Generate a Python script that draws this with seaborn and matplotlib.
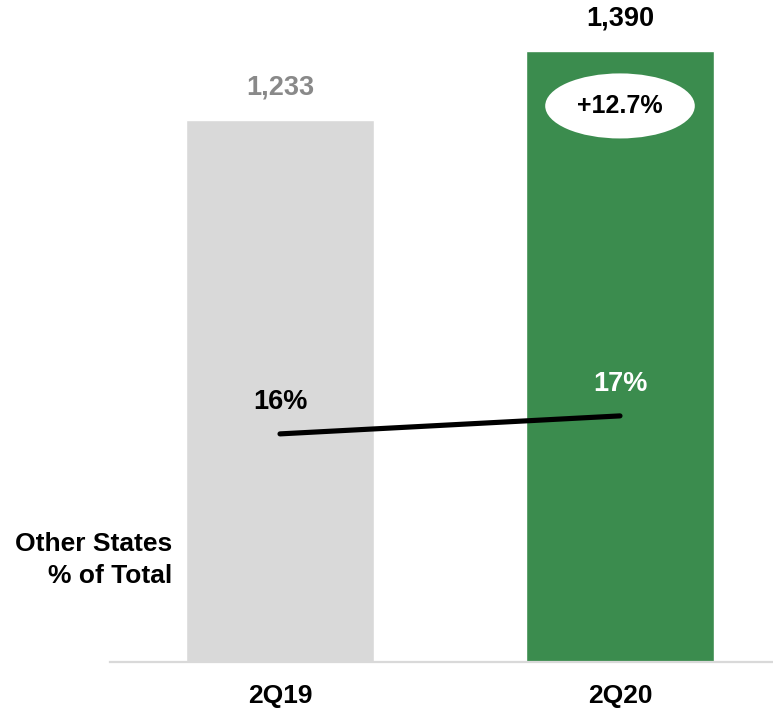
import matplotlib
matplotlib.use("Agg")
import matplotlib.pyplot as plt
from matplotlib.patches import Ellipse
import numpy as np
import pandas as pd
import seaborn as sns

# Data
quarters = ["2Q19", "2Q20"]
volumes = [1233, 1390]
share_pct = [16, 17]
growth_label = "+12.7%"

bar_colors = ["#D9D9D9", "#3B8C4E"]
value_colors = ["#898989", "#000000"]
pct_colors = ["#000000", "#FFFFFF"]

sns.set_theme(style="white")
plt.rcParams["font.family"] = ["Liberation Sans", "DejaVu Sans"]
plt.rcParams["font.weight"] = "bold"

fig = plt.figure(figsize=(7.73, 7.11), dpi=100)
ax = fig.add_axes([110 / 773, 49 / 711, 663 / 773, 662 / 711])

df = pd.DataFrame({"quarter": quarters, "volume": volumes})
sns.barplot(data=df, x="quarter", y="volume", hue="quarter",
            palette=bar_colors, width=0.553, legend=False, ax=ax,
            saturation=1)

ax.set_xlim(-0.5, 1.45)
ax.set_ylim(0, 1506)
ax.set_xlabel("")
ax.set_ylabel("")
ax.set_yticks([])
for side in ["top", "right", "left"]:
    ax.spines[side].set_visible(False)
ax.spines["bottom"].set_color("#D9D9D9")
ax.spines["bottom"].set_linewidth(1.6)
ax.tick_params(axis="x", length=0, pad=16, labelsize=19)
for lbl in ax.get_xticklabels():
    lbl.set_fontweight("bold")
    lbl.set_color("#000000")

# Value labels above bars
for i, (v, c) in enumerate(zip(volumes, value_colors)):
    ax.text(i, v + 75, f"{v:,}", ha="center", va="center",
            fontsize=19.5, fontweight="bold", color=c)

# Growth badge inside the second bar
ell = Ellipse((1, 1390 - 125), width=0.44, height=148, facecolor="white",
              edgecolor="none", zorder=5)
ax.add_patch(ell)
ax.text(1, 1390 - 125, growth_label, ha="center", va="center",
        fontsize=18, fontweight="bold", color="black", zorder=6)

# Share line on secondary axis
ax2 = ax.twinx()
ax2.set_ylim(3.33, 40.1)
sns.lineplot(x=np.arange(len(quarters)), y=share_pct, color="black",
             linewidth=3.7, ax=ax2, solid_capstyle="round")
ax2.set_xlim(-0.5, 1.45)
ax2.set_yticks([])
ax2.set_ylabel("")
for side in ["top", "right", "left", "bottom"]:
    ax2.spines[side].set_visible(False)

for i, (p, c) in enumerate(zip(share_pct, pct_colors)):
    ax2.text(i, p + 1.75, f"{p}%", ha="center", va="center",
             fontsize=19.5, fontweight="bold", color=c)

fig.text(172 / 773, 1 - 544 / 711, "Other States", ha="right", va="center",
         fontsize=19, fontweight="bold", color="black")
fig.text(172 / 773, 1 - 576 / 711, "% of Total", ha="right", va="center",
         fontsize=19, fontweight="bold", color="black")

fig.savefig("out.png", dpi=100)
